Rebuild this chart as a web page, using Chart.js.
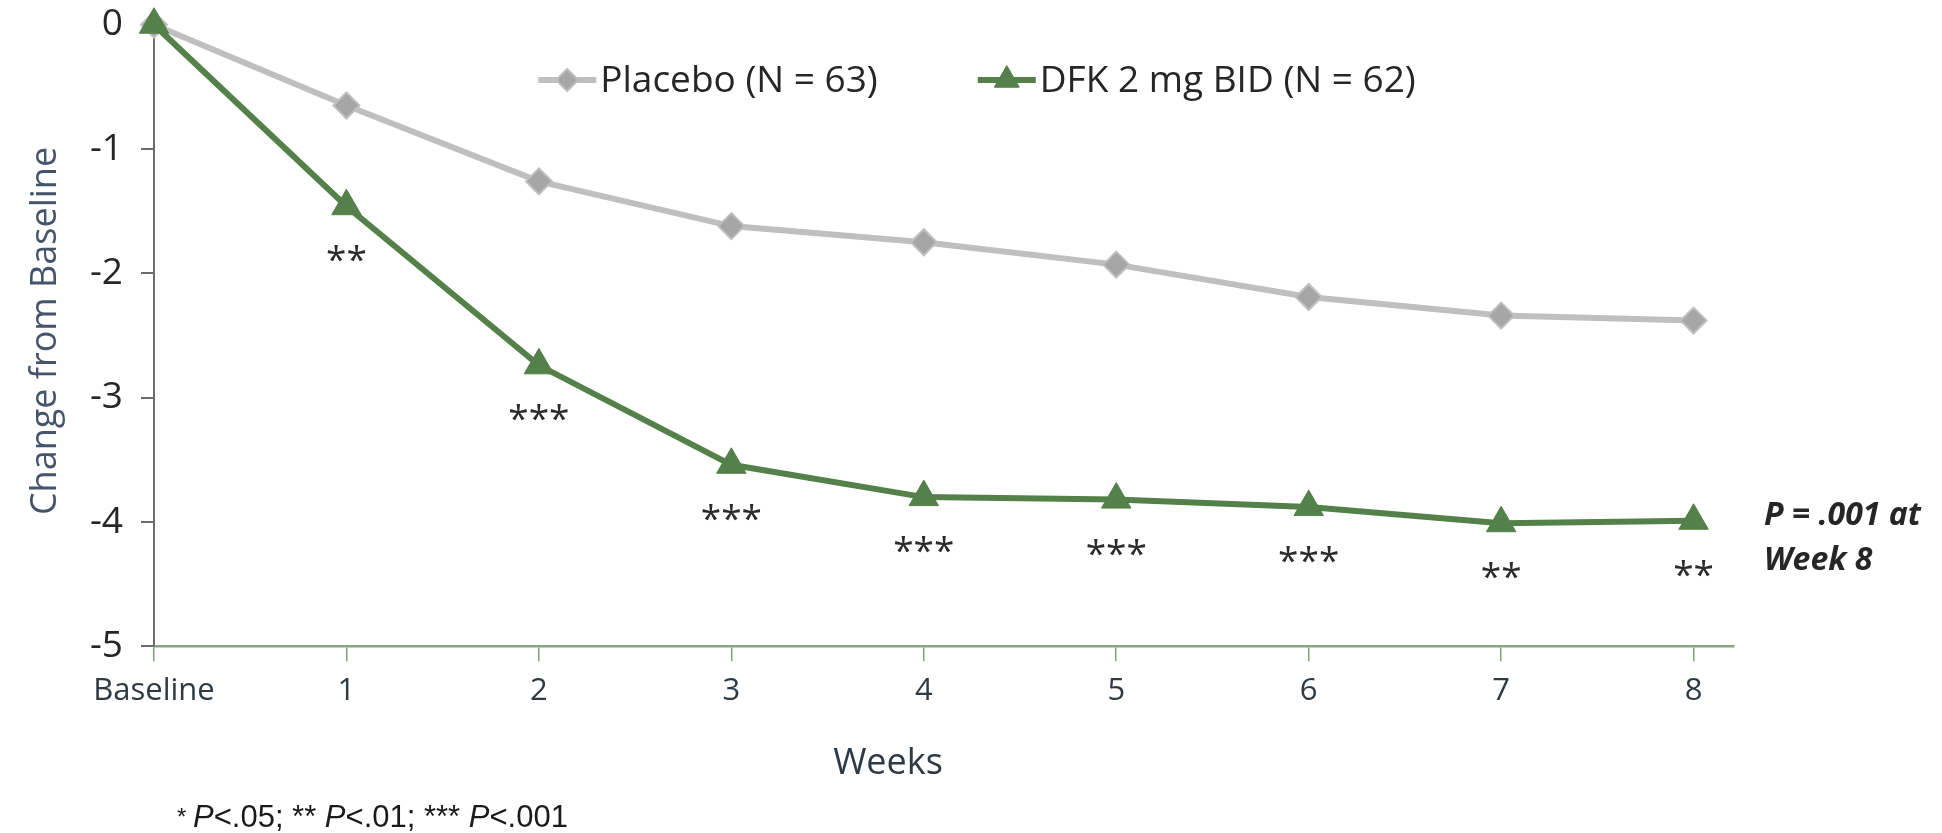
<!DOCTYPE html>
<html>
<head>
<meta charset="utf-8">
<script src="https://cdn.jsdelivr.net/npm/chart.js@4.4.1/dist/chart.umd.min.js"></script>
<style>
  html, body { margin: 0; padding: 0; background: #ffffff; }
  #wrap { width: 1942px; height: 833px; }
</style>
</head>
<body>
<div id="wrap"><canvas id="c" width="1942" height="833"></canvas></div>
<script>
// ---- data ----
const categories = ['Baseline', '1', '2', '3', '4', '5', '6', '7', '8'];
const placeboValues = [0, -0.65, -1.26, -1.62, -1.75, -1.93, -2.19, -2.34, -2.38];
const dfkValues = [0, -1.46, -2.74, -3.54, -3.80, -3.82, -3.88, -4.01, -3.99];
const significance = ['', '**', '***', '***', '***', '***', '***', '**', '**'];
const yTickValues = [0, -1, -2, -3, -4, -5];
const seriesLabels = ['Placebo (N = 63)', 'DFK 2 mg BID (N = 62)'];
const yTitle = 'Change from Baseline';
const xTitle = 'Weeks';
const pNoteLines = ['P = .001 at', 'Week 8'];
const footnoteParts = [['* ', false], ['P', true], ['<.05; ** ', false], ['P', true], ['<.01; *** ', false], ['P', true], ['<.001', false]];

const FONT = '"Open Sans", "Noto Sans", sans-serif';
const GREEN = '#548049';
const GREY_LINE = '#bfbfbf';
const GREY_MARK = '#a6a6a6';

const toPoints = arr => arr.map((v, i) => ({ x: i, y: v }));

// stars under DFK points
const starsPlugin = {
  id: 'stars',
  afterDatasetsDraw(chart) {
    const { ctx, scales } = chart;
    ctx.save();
    ctx.font = '500 37px ' + FONT;
    ctx.fillStyle = '#2b2b2b';
    ctx.textAlign = 'center';
    ctx.textBaseline = 'alphabetic';
    significance.forEach((s, i) => {
      if (!s) return;
      const x = scales.x.getPixelForValue(i);
      const y = scales.y.getPixelForValue(dfkValues[i]) + 46;
      ctx.fillText(s, x, y + 20);
    });
    ctx.restore();
  }
};

// custom legend, titles, notes
const decorPlugin = {
  id: 'decor',
  afterDraw(chart) {
    const { ctx, chartArea, scales } = chart;
    ctx.save();
    // legend
    ctx.font = '37px ' + FONT;
    ctx.textBaseline = 'middle';
    ctx.textAlign = 'left';
    const lineLen = 58, gapText = 4, gapItem = 100;
    const ds = chart.data.datasets;
    const widths = ds.map(d => ctx.measureText(d.label).width);
    let total = gapItem;
    widths.forEach(w => total += lineLen + gapText + w);
    let x = 977 - total / 2;
    const ly = 80;
    ds.forEach((d, i) => {
      ctx.strokeStyle = d.borderColor;
      ctx.lineWidth = d.borderWidth;
      ctx.beginPath();
      ctx.moveTo(x, ly);
      ctx.lineTo(x + lineLen, ly);
      ctx.stroke();
      ctx.fillStyle = d.pointBackgroundColor;
      ctx.strokeStyle = d.pointBorderColor;
      ctx.lineWidth = d.pointBorderWidth;
      Chart.helpers.drawPoint(ctx, {
        pointStyle: d.pointStyle,
        radius: d.pointRadius * 0.85,
        rotation: 0,
        borderWidth: d.pointBorderWidth
      }, x + lineLen / 2, ly);
      ctx.fillStyle = '#262626';
      ctx.fillText(d.label, x + lineLen + gapText, ly + 1);
      x += lineLen + gapText + widths[i] + gapItem;
    });

    // y title
    ctx.save();
    ctx.translate(46, 331);
    ctx.rotate(-Math.PI / 2);
    ctx.font = '36px ' + FONT;
    ctx.fillStyle = '#44546a';
    ctx.textAlign = 'center';
    ctx.textBaseline = 'middle';
    ctx.fillText(yTitle, 0, 0);
    ctx.restore();

    // x title
    ctx.font = '36px ' + FONT;
    ctx.fillStyle = '#2e3a44';
    ctx.textAlign = 'center';
    ctx.textBaseline = 'middle';
    ctx.fillText(xTitle, 888, 764);

    // P note
    ctx.font = 'italic bold 32px ' + FONT;
    ctx.fillStyle = '#262626';
    ctx.textAlign = 'left';
    ctx.textBaseline = 'middle';
    const py = scales.y.getPixelForValue(dfkValues[dfkValues.length - 1]);
    ctx.fillText(pNoteLines[0], chartArea.right + 30, py - 5);
    ctx.fillText(pNoteLines[1], chartArea.right + 30, py + 40);

    // footnote
    let fx = 177;
    ctx.fillStyle = '#1a1a1a';
    ctx.textBaseline = 'middle';
    footnoteParts.forEach(([t, it], k) => {
      const size = k === 0 ? 24 : 31;
      ctx.font = (it ? 'italic ' : '') + size + 'px "Liberation Sans", Arial, sans-serif';
      ctx.fillText(t, fx, 818);
      fx += ctx.measureText(t).width;
    });
    ctx.restore();
  }
};

new Chart(document.getElementById('c'), {
  type: 'line',
  data: {
    datasets: [
      {
        label: seriesLabels[0],
        data: toPoints(placeboValues),
        borderColor: GREY_LINE,
        borderWidth: 6,
        pointStyle: 'rectRot',
        pointRadius: 13,
        pointHoverRadius: 13,
        pointBackgroundColor: GREY_MARK,
        pointBorderColor: GREY_LINE,
        pointBorderWidth: 2,
        tension: 0,
        clip: false,
        order: 1
      },
      {
        label: seriesLabels[1],
        data: toPoints(dfkValues),
        borderColor: GREEN,
        borderWidth: 6,
        pointStyle: 'triangle',
        pointRadius: 17,
        pointHoverRadius: 17,
        pointBackgroundColor: GREEN,
        pointBorderColor: GREEN,
        pointBorderWidth: 1,
        tension: 0,
        clip: false,
        order: 0
      }
    ]
  },
  options: {
    responsive: false,
    devicePixelRatio: 1,
    animation: false,
    events: [],
    layout: { padding: { left: 0, right: 208, top: 24.7, bottom: 0 } },
    plugins: { legend: { display: false }, tooltip: { enabled: false }, title: { display: false } },
    scales: {
      x: {
        type: 'linear',
        min: 0,
        max: 8.21,
        afterFit(scale) {
          scale.height = 833 - 646.3;
          scale.paddingLeft = 0; scale.paddingRight = 0;
        },
        afterBuildTicks(scale) { scale.ticks = categories.map((_, i) => ({ value: i })); },
        ticks: {
          autoSkip: false,
          maxRotation: 0,
          padding: 11,
          color: '#2e3a44',
          font: { family: FONT, size: 31 },
          callback: v => categories[v]
        },
        grid: { drawOnChartArea: false, drawTicks: true, tickLength: 15, color: '#7fa374', lineWidth: 1.5 },
        border: { display: true, color: '#86a87c', width: 2.5 }
      },
      y: {
        type: 'linear',
        min: -5,
        max: 0,
        afterFit(scale) {
          scale.width = 154;
          scale.paddingTop = 0; scale.paddingBottom = 0;
        },
        afterBuildTicks(scale) { scale.ticks = yTickValues.map(v => ({ value: v })); },
        ticks: {
          padding: 18,
          color: '#262626',
          font: { family: FONT, size: 37 },
          callback: v => String(v)
        },
        grid: { drawOnChartArea: false, drawTicks: true, tickLength: 13, color: '#6b6b6b', lineWidth: 2 },
        border: { display: true, color: '#6b6b6b', width: 2 }
      }
    }
  },
  plugins: [starsPlugin, decorPlugin]
});
</script>
</body>
</html>
